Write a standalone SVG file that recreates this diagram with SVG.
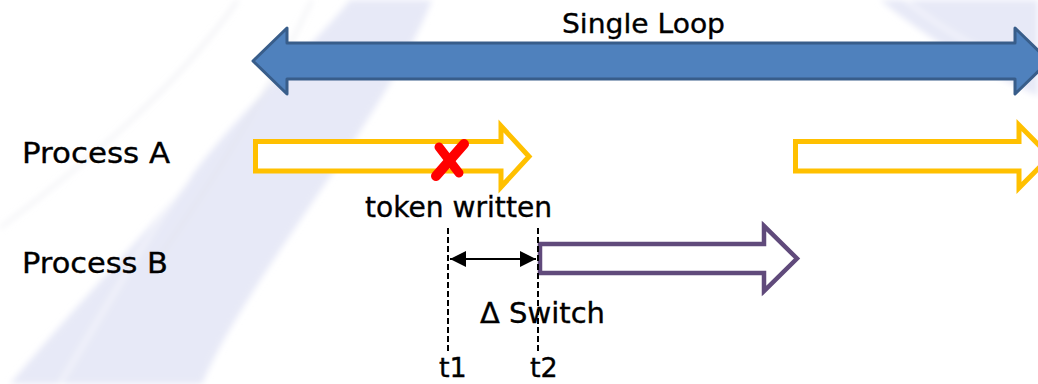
<svg xmlns="http://www.w3.org/2000/svg" width="1038" height="384" viewBox="0 0 1038 384">
  <style>
    .lbl { font-family: "DejaVu Sans", "Liberation Sans", sans-serif; fill: #000000; stroke: #000000; stroke-width: 0.35; }
    .bg-band { fill: #E7E9F7; }
    .bg-line { fill: none; stroke: #DFE0E8; stroke-width: 1.5; }
    .bg-glint { fill: none; stroke: #FFFFFF; stroke-width: 2; }
    .run-a { fill: #FFFFFF; stroke: #FFC000; stroke-width: 5; stroke-linejoin: miter; }
    .run-b { fill: #FFFFFF; stroke: #604A7B; stroke-width: 4.5; stroke-linejoin: miter; }
    .loop { fill: #4F81BD; stroke: #385D8A; stroke-width: 3; stroke-linejoin: round; }
    .mark { stroke: #000000; stroke-width: 2; stroke-dasharray: 6 3; fill: none; }
    .span { stroke: #000000; stroke-width: 2; fill: none; }
  </style>
  <defs>
    <marker id="tri" viewBox="0 0 10 10" refX="10" refY="5" markerWidth="8" markerHeight="8" markerUnits="strokeWidth" orient="auto-start-reverse">
      <path d="M0,0 L10,5 L0,10 Z" fill="#000000"/>
    </marker>
    <filter id="soft" x="-10%" y="-10%" width="120%" height="120%">
      <feGaussianBlur stdDeviation="3"/>
    </filter>
  </defs>

  <!-- page background with soft swooshes -->
  <rect width="1038" height="384" fill="#FFFFFF"/>
  <g id="background" filter="url(#soft)">
    <path class="bg-band" d="M350,0 L432,0 C385,120 245,280 202,384 L10,384 C80,300 150,230 190,178 C240,110 310,50 350,0 Z"/>
    <path class="bg-band" d="M880,0 C930,40 980,70 1038,96 L1038,0 Z"/>
    <path class="bg-line" d="M0,228 C90,160 175,90 238,0"/>
    <path class="bg-line" d="M150,270 C200,200 260,110 312,0"/>
    <path class="bg-glint" d="M60,384 C110,300 150,230 190,178"/>
    <path class="bg-glint" d="M905,0 C950,35 990,58 1038,70"/>
  </g>

  <!-- loop span -->
  <g id="single-loop">
    <path class="loop" d="M253,61 L287,28 L287,43 L1015,43 L1015,28 L1049,61 L1015,94 L1015,79 L287,79 L287,94 Z"/>
    <text class="lbl" x="562" y="33" font-size="27" textLength="163" lengthAdjust="spacingAndGlyphs">Single Loop</text>
  </g>

  <g id="process-a-label">
    <text class="lbl" x="22" y="163" font-size="29" textLength="148" lengthAdjust="spacingAndGlyphs">Process A</text>
  </g>
  <g id="process-b-label">
    <text class="lbl" x="22" y="273" font-size="29" textLength="146" lengthAdjust="spacingAndGlyphs">Process B</text>
  </g>

  <!-- process A run slots -->
  <g id="process-a-run1">
    <path class="run-a" d="M255.5,141.5 L501,141.5 L501,126 L529,156.5 L501,187 L501,171 L255.5,171 Z"/>
  </g>
  <g id="process-a-run2">
    <path class="run-a" d="M795.5,141.5 L1019,141.5 L1019,125 L1050,156.5 L1019,188 L1019,171 L795.5,171 Z"/>
  </g>

  <!-- token write event -->
  <g id="token-written">
    <path d="M464,144 L436,176" stroke="#FF0000" stroke-width="10" stroke-linecap="round"/>
    <path d="M439,147 L459,173" stroke="#FF0000" stroke-width="9" stroke-linecap="round"/>
    <text class="lbl" x="365" y="217" font-size="28" textLength="187" lengthAdjust="spacingAndGlyphs">token written</text>
  </g>

  <!-- process B run slot -->
  <g id="process-b-run">
    <path class="run-b" d="M540,244 L764,244 L764,226 L797,258.5 L764,291 L764,273 L540,273 Z"/>
  </g>

  <!-- time marks and switch interval -->
  <g id="connectors">
    <line class="mark" x1="448" y1="228" x2="448" y2="353"/>
    <line class="mark" x1="538" y1="228" x2="538" y2="353"/>
    <line class="span" x1="450" y1="259" x2="536" y2="259" marker-start="url(#tri)" marker-end="url(#tri)"/>
  </g>

  <g id="delta-switch">
    <text class="lbl" x="480" y="323" font-size="28" textLength="125" lengthAdjust="spacingAndGlyphs">Δ Switch</text>
  </g>
  <g id="t1">
    <text class="lbl" x="439" y="377" font-size="27">t1</text>
  </g>
  <g id="t2">
    <text class="lbl" x="530" y="377" font-size="27">t2</text>
  </g>
</svg>
